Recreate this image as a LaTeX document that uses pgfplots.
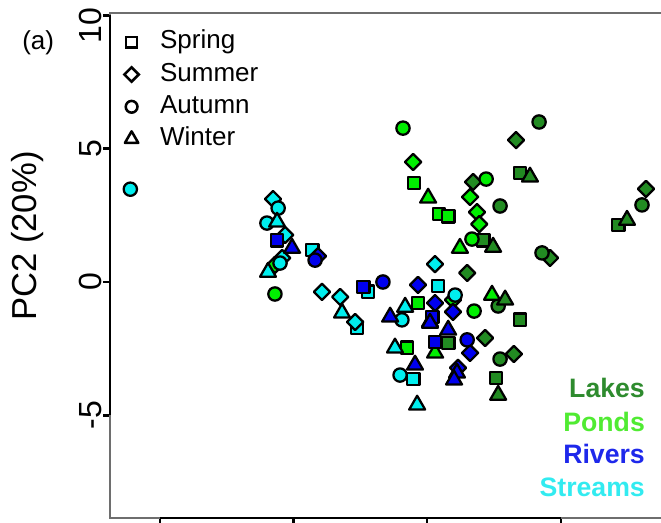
\documentclass[border=0pt]{standalone}
\usepackage{fontspec}
\setmainfont{Liberation Sans}
\usepackage{pgfplots}
\pgfplotsset{compat=1.18}
\definecolor{lakes}{RGB}{34,139,34}
\definecolor{ponds}{RGB}{0,238,0}
\definecolor{rivers}{RGB}{0,0,238}
\definecolor{streams}{RGB}{0,238,238}
\definecolor{lakesT}{RGB}{46,139,46}
\definecolor{pondsT}{RGB}{80,235,50}
\definecolor{riversT}{RGB}{30,40,235}
\definecolor{streamsT}{RGB}{50,235,240}
\definecolor{boxgray}{RGB}{110,110,110}
\pgfplotsset{
  grp/.style={only marks, mark options={draw=black, fill=#1, line width=1.7pt, line join=round, solid}},
  sq/.style={mark=square*, mark size=4.7pt},
  di/.style={mark=square*, mark size=4.3pt, every mark/.append style={rotate=45}},
  ci/.style={mark=*, mark size=5.0pt},
  tr/.style={mark=triangle*, mark size=6.9pt},
  lgimg/.style={legend image code/.code={\draw[##1] plot coordinates {(0pt,5pt)};}},
}
\begin{document}
\begin{tikzpicture}
\begin{axis}[
  at={(82.5pt,3.75pt)}, anchor=south west,
  x=20.05pt, y=20pt,
  xmin=-11.86, xmax=10, ymin=-8.85, ymax=10.09,
  clip=false,
  axis line style={draw=boxgray, line width=0.9pt},
  xtick={-10,-5,0,5}, xticklabels={},
  ytick={-5,0,5,10},
  yticklabels={-5,0,5,{10\rule{16pt}{0pt}}},
  xtick pos=bottom, ytick pos=left,
  tick align=outside,
  major tick length=5pt,
  every tick/.style={black, line width=1.8pt},
  /pgf/number format/assume math mode=true,
  yticklabel style={rotate=90, anchor=south, inner sep=1pt, font=\fontsize{24}{24}\selectfont},
  ylabel={PC2 (20\%)},
  ylabel style={at={(axis description cs:-0.1403,0.558)}, anchor=center, inner sep=0pt, font=\fontsize{26}{26}\selectfont},
  legend style={at={(axis cs:-11.32,9.44)}, anchor=north west, draw=none, fill=none,
    inner sep=0pt, outer sep=0pt, row sep=6.2pt, column sep=16pt,
    font=\fontsize{19.5}{19.5}\selectfont,
    nodes={inner sep=0pt, text height=14pt, text depth=4pt, anchor=base west}},
  legend cell align=left,
]
\addlegendimage{only marks, mark=square*, mark size=4.1pt, mark options={draw=black, fill=white, line width=1.9pt}, lgimg}
\addlegendentry{Spring}
\addlegendimage{only marks, mark=square*, mark size=3.8pt, mark options={draw=black, fill=white, line width=1.9pt, rotate=45}, lgimg}
\addlegendentry{Summer}
\addlegendimage{only marks, mark=*, mark size=4.4pt, mark options={draw=black, fill=white, line width=1.9pt}, lgimg}
\addlegendentry{Autumn}
\addlegendimage{only marks, mark=triangle*, mark size=5.8pt, mark options={draw=black, fill=white, line width=1.9pt, line join=round}, lgimg}
\addlegendentry{Winter}

% Lakes
\addplot[grp=lakes, sq] coordinates {(3.48,4.09) (2.10,1.57) (3.48,-1.42) (2.58,-3.60) (7.15,2.14) (0.79,-2.29)};
\addplot[grp=lakes, di] coordinates {(3.33,5.32) (1.72,3.75) (1.50,0.34) (2.17,-2.10) (3.25,-2.70) (4.60,0.90) (8.19,3.49)};
\addplot[grp=lakes, ci] coordinates {(4.19,6.00) (2.73,2.85) (4.30,1.09) (2.66,-0.90) (2.73,-2.89) (8.04,2.89)};
\addplot[grp=lakes, tr] coordinates {(3.85,3.94) (2.47,1.31) (2.92,-0.67) (2.66,-4.24) (7.48,2.32)};
% Ponds
\addplot[grp=ponds, sq] coordinates {(-0.49,3.71) (0.45,2.55) (0.79,2.47) (-0.34,-0.79) (-0.75,-2.47)};
\addplot[grp=ponds, di] coordinates {(-0.52,4.50) (1.61,3.19) (1.87,2.62) (1.95,2.17) (0.97,-0.67) (-5.69,0.64)};
\addplot[grp=ponds, ci] coordinates {(-0.90,5.77) (2.21,3.86) (1.68,1.61) (1.76,-1.09) (-5.69,-0.45)};
\addplot[grp=ponds, tr] coordinates {(0.04,3.15) (1.23,1.27) (2.43,-0.49) (0.30,-2.66) (0.11,-1.50)};
% Streams
\addplot[grp=streams, sq] coordinates {(-4.30,1.20) (-2.21,-0.37) (-2.62,-1.72) (0.41,-0.15) (-0.52,-3.64)};
\addplot[grp=streams, di] coordinates {(-5.76,3.11) (-5.31,1.76) (-5.42,0.90) (-3.93,-0.37) (-3.25,-0.56) (-2.69,-1.50) (0.30,0.67)};
\addplot[grp=streams, ci] coordinates {(-11.10,3.48) (-5.57,2.77) (-5.99,2.21) (-5.50,0.71) (-0.94,-1.42) (-1.01,-3.49) (1.05,-0.49)};
\addplot[grp=streams, tr] coordinates {(-5.61,2.25) (-5.95,0.37) (-3.18,-1.16) (-0.82,-0.94) (-1.20,-2.47) (-0.37,-4.61)};
% Rivers
\addplot[grp=rivers, sq] coordinates {(-5.61,1.57) (-2.39,-0.19) (0.30,-2.25) (0.19,-1.31)};
\addplot[grp=rivers, di] coordinates {(-4.08,0.97) (-0.34,-0.11) (0.30,-0.79) (0.97,-1.12) (1.61,-2.66) (1.16,-3.22)};
\addplot[grp=rivers, ci] coordinates {(-4.19,0.82) (-1.65,0.00) (1.50,-2.17)};
\addplot[grp=rivers, tr] coordinates {(-5.05,1.27) (-1.38,-1.31) (0.11,-1.54) (0.79,-1.80) (-0.45,-3.11) (1.12,-3.41) (1.01,-3.67)};

% R-style thick axis segments
\draw[black, line width=2pt] (axis cs:-11.86,-5) -- (axis cs:-11.86,10);
\draw[black, line width=2pt] (axis cs:-10,-8.85) -- (axis cs:5,-8.85);

% colour key
\node[anchor=base east, inner sep=0pt, text=lakesT, font=\fontsize{20}{20}\selectfont\bfseries] at (axis cs:8.156,-4.35) {Lakes};
\node[anchor=base east, inner sep=0pt, text=pondsT, font=\fontsize{20}{20}\selectfont\bfseries] at (axis cs:8.156,-5.59) {Ponds};
\node[anchor=base east, inner sep=0pt, text=riversT, font=\fontsize{20}{20}\selectfont\bfseries] at (axis cs:8.156,-6.82) {Rivers};
\node[anchor=base east, inner sep=0pt, text=streamsT, font=\fontsize{20}{20}\selectfont\bfseries] at (axis cs:8.156,-8.06) {Streams};
\end{axis}
\node[anchor=base west, inner sep=0pt, font=\fontsize{19.5}{19.5}\selectfont] at (16.5pt,355.1pt) {(a)};
\pgfresetboundingbox
\useasboundingbox (0,0) rectangle (495.75pt,392.25pt);
\end{tikzpicture}
\end{document}
